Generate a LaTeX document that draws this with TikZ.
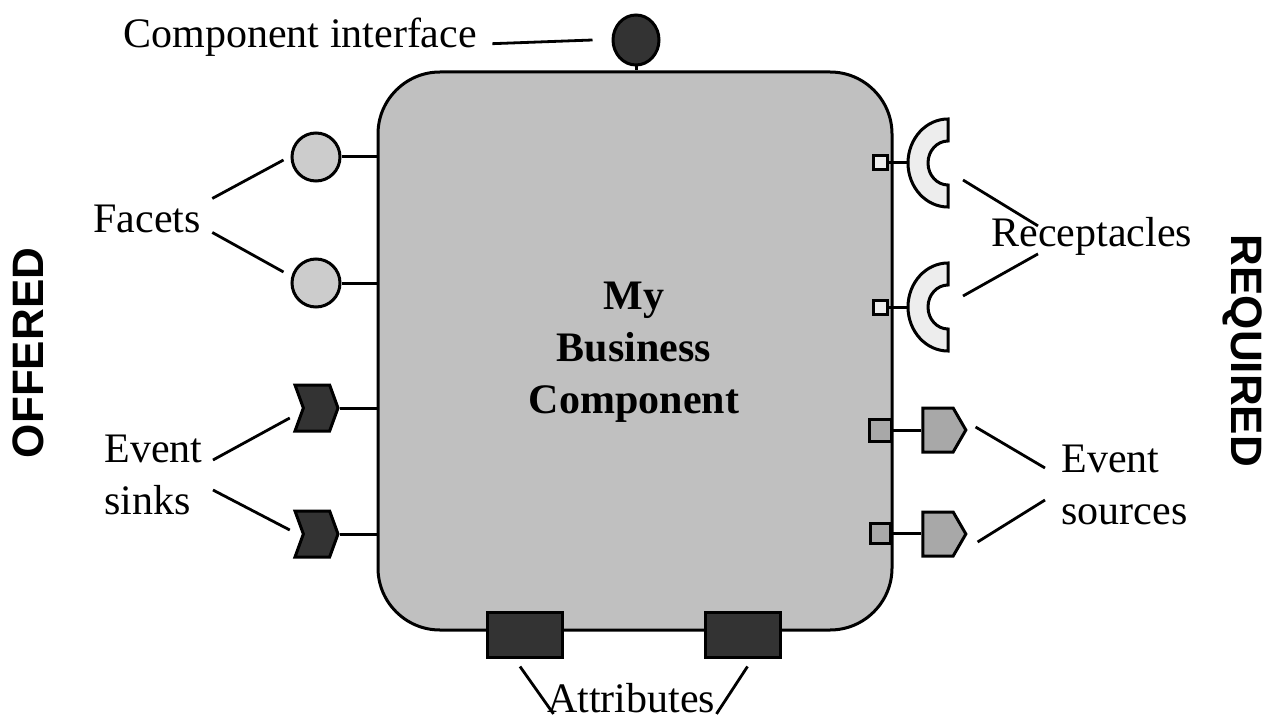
\documentclass[tikz,border=0pt]{standalone}
\usepackage{fontspec}
\setmainfont{Liberation Serif}
\newfontfamily\sidefont{Liberation Sans}
\usetikzlibrary{shapes.geometric, shapes.symbols, positioning, calc}

\definecolor{compgray}{HTML}{C0C0C0}
\definecolor{facetgray}{HTML}{CCCCCC}
\definecolor{recgray}{HTML}{EDEDED}
\definecolor{srcgray}{HTML}{A8A8A8}
\definecolor{darkport}{HTML}{333333}

\begin{document}
\begin{tikzpicture}[x=1pt, y=-1pt, line width=3pt, on grid]
        \tikzset{lbl/.style={font=\fontsize{42}{52}\selectfont, inner sep=0pt, align=left},
                 facet/.style={circle, draw, fill=facetgray, minimum size=48pt, inner sep=0pt},
                 sink/.style={signal, signal to=east, signal from=west, signal pointer angle=140,
                              draw, fill=darkport, minimum width=43pt, minimum height=46pt, inner sep=0pt},
                 source/.style={signal, signal to=east, signal pointer angle=120,
                              draw, fill=srcgray, minimum width=43pt, minimum height=44pt, inner sep=0pt},
                 portsq/.style={rectangle, draw, inner sep=0pt},
                 attrbox/.style={rectangle, draw, fill=darkport, minimum width=75pt, minimum height=45pt},
                 pointer/.style={line width=2.8pt}}
        \useasboundingbox (0,0) rectangle (1265,719);

        % the component
        \node[draw, fill=compgray, rounded corners=62pt, minimum width=514pt, minimum height=558pt] (comp) at (635,351) {};
        \node[font=\fontsize{42}{52}\selectfont\bfseries, align=center] (compname) at (634,352) {My\\Business\\Component};

        % component interface
        \node[ellipse, draw, fill=darkport, minimum width=46pt, minimum height=50pt] (iface) at (636,40) {};
        \draw (iface.south) -- (iface.south |- comp.north);
        \node[lbl, anchor=base west] (ifacetext) at (122,48) {Component interface};
        \draw[pointer] ($(ifacetext.east)+(14,6)$) -- ($(iface.west)+(-19,0)$);

        % offered side
        \node[facet] (facet1) at (316,157) {};
        \node[facet] (facet2) [below=126pt of facet1] {};
        \node[sink] (sink1) at (316.5,408) {};
        \node[sink] (sink2) [below=126pt of sink1] {};
        \foreach \p in {facet1, facet2, sink1, sink2}
            \draw (\p.east) -- (\p.east -| comp.west);

        \node[lbl, anchor=base west] (facets) at (92,233) {Facets};
        \draw[pointer] ($(facets.east)+(10,-21)$) -- ($(facet1.west)+(-7,3)$);
        \draw[pointer] ($(facets.east)+(10,13)$) -- ($(facet2.west)+(-7,-11)$);

        \node[lbl, anchor=west] (sinks) at (103,475) {Event\\sinks};
        \draw[pointer] ($(sinks.east)+(9,-15)$) -- ($(sink1.west)+(-12,10)$);
        \draw[pointer] ($(sinks.east)+(9,15)$) -- ($(sink2.west)+(-12,-4)$);

        \node[font=\fontsize{44}{52}\sidefont\bfseries, rotate=90] (offered) at (28,353) {OFFERED};

        % required side
        \coordinate (rec1) at (948,163);
        \coordinate (rec2) at (948,307);
        \foreach \r in {rec1, rec2} {
            \draw[fill=recgray] ($(\r)+(0,-44)$) arc[start angle=270, end angle=90, x radius=40, y radius=44]
                -- ($(\r)+(0,22)$) arc[start angle=90, end angle=270, x radius=20, y radius=22] -- cycle;
            \node[portsq, fill=recgray, minimum size=14pt] (\r sq) at (\r -| 880.5,0) {};
            \draw (\r sq.east) -- ($(\r)+(-40,0)$);
        }

        \node[portsq, fill=srcgray, minimum size=22pt] (srcsq1) at (880.5,430) {};
        \node[portsq, fill=srcgray, minimum size=20pt] (srcsq2) at (880.5,533) {};
        \node[source] (src1) at (938,430) {};
        \node[source] (src2) at (938,534) {};
        \draw (srcsq1.east) -- (src1.west);
        \draw (srcsq2.east) -- (srcsq2.east -| src2.west);

        \node[lbl, anchor=base west] (recept) at (990,247) {Receptacles};
        \draw[pointer] ($(rec1)+(15,17)$) -- ($(recept.west)+(48,-11)$);
        \draw[pointer] ($(rec2)+(15,-11)$) -- ($(recept.west)+(48,17)$);

        \node[lbl, anchor=west] (sources) at (1060,485) {Event\\sources};
        \draw[pointer] ($(src1.east)+(8,-3)$) -- ($(sources.west)+(-15,-17)$);
        \draw[pointer] ($(src2.east)+(10,8)$) -- ($(sources.west)+(-15,15)$);

        \node[font=\fontsize{44}{52}\sidefont\bfseries, rotate=-90] (required) at (1243,351) {REQUIRED};

        % attributes
        \node[attrbox] (attr1) at (525,634.5) {};
        \node[attrbox] (attr2) at (742.5,634.5) {};
        \node[lbl, anchor=base] (attrs) at (631,712) {Attributes};
        \draw[pointer] ($(attr1.south)+(-5,8)$) -- ($(attrs.south west)+(8,0)$);
        \draw[pointer] ($(attr2.south)+(5,8)$) -- ($(attrs.south east)+(0,0)$);
\end{tikzpicture}
\end{document}
